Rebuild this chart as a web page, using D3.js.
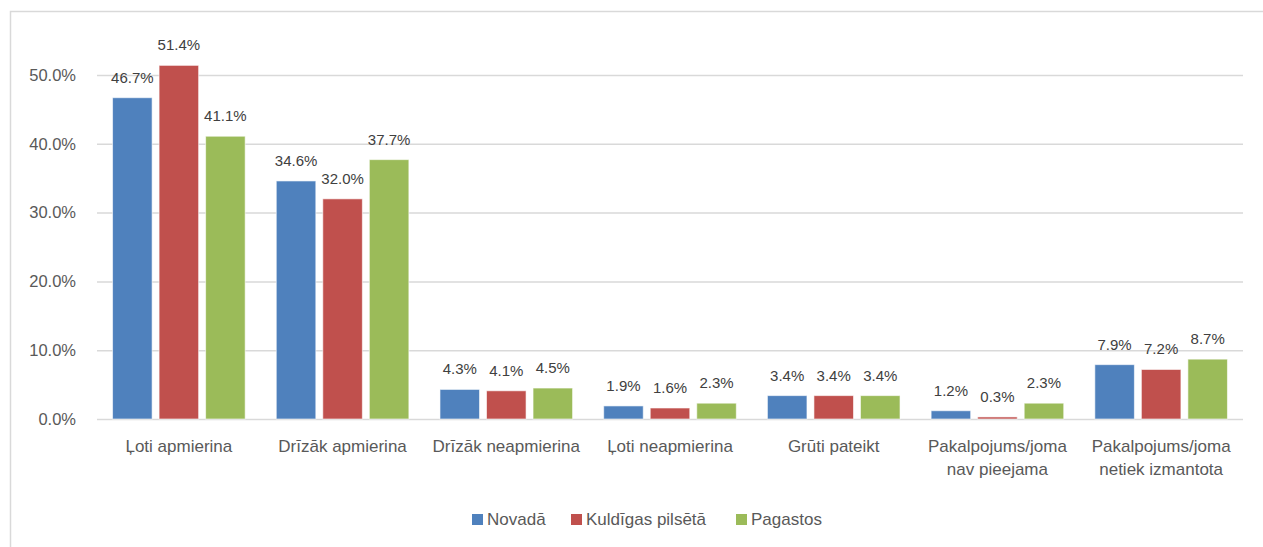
<!DOCTYPE html>
<html>
<head>
<meta charset="utf-8">
<script src="https://cdn.jsdelivr.net/npm/d3@7"></script>
<style>
  html, body { margin: 0; padding: 0; background: #fff; }
  svg { display: block; font-family: "Liberation Sans", Arial, sans-serif; }
</style>
</head>
<body>
<svg id="chart" width="1263" height="547"></svg>
<script>
const categories = [
  ["Ļoti apmierina"],
  ["Drīzāk apmierina"],
  ["Drīzāk neapmierina"],
  ["Ļoti neapmierina"],
  ["Grūti pateikt"],
  ["Pakalpojums/joma", "nav pieejama"],
  ["Pakalpojums/joma", "netiek izmantota"]
];
const seriesNames = ["Novadā", "Kuldīgas pilsētā", "Pagastos"];
const seriesColors = ["#4F81BD", "#C0504D", "#9BBB59"];
const novada   = [46.7, 34.6, 4.3, 1.9, 3.4, 1.2, 7.9];
const kuldigas = [51.4, 32.0, 4.1, 1.6, 3.4, 0.3, 7.2];
const pagastos = [41.1, 37.7, 4.5, 2.3, 3.4, 2.3, 8.7];
const yTicks = [0, 10, 20, 30, 40, 50];

const seriesValues = [novada, kuldigas, pagastos];
const catKeys = categories.map(c => c.join(" "));

const svg = d3.select("#chart");

// chart frame
svg.append("rect")
  .attr("x", 10.5).attr("y", 11.5)
  .attr("width", 1300).attr("height", 600)
  .attr("fill", "#fff").attr("stroke", "#d9d9d9").attr("stroke-width", 1.5);

const left = 97, right = 1243, yZero = 419, yFifty = 75;
const y = d3.scaleLinear().domain([0, 50]).range([yZero, yFifty]);
const x0 = d3.scaleBand().domain(catKeys).range([left, right])
  .paddingInner(0.19).paddingOuter(0.095);
const x1 = d3.scaleBand().domain(seriesNames).range([0, x0.bandwidth()])
  .paddingInner(0.15);

// gridlines
const yAxis = d3.axisLeft(y).tickValues(yTicks)
  .tickFormat(d => d.toFixed(1) + "%")
  .tickSize(-(right - left)).tickPadding(21);
const gy = svg.append("g").attr("transform", `translate(${left},0)`).call(yAxis);
gy.select(".domain").remove();
gy.selectAll(".tick line").attr("stroke", "#d9d9d9").attr("stroke-width", 1.5);
gy.selectAll(".tick text")
  .attr("fill", "#595959").attr("font-size", "16.5px")
  .attr("font-family", "Liberation Sans, Arial, sans-serif");

// bars
const groups = svg.append("g").selectAll("g")
  .data(catKeys).join("g")
  .attr("transform", d => `translate(${x0(d)},0)`);

groups.each(function(cat, ci) {
  const g = d3.select(this);
  seriesNames.forEach((s, si) => {
    const v = seriesValues[si][ci];
    g.append("rect")
      .attr("x", x1(s)).attr("width", x1.bandwidth())
      .attr("y", y(v)).attr("height", yZero - y(v))
      .attr("fill", seriesColors[si])
      .attr("stroke", "#ffffff").attr("stroke-opacity", 0.6).attr("stroke-width", 1);
    g.append("text")
      .attr("x", x1(s) + x1.bandwidth() / 2)
      .attr("y", y(v) - 15)
      .attr("text-anchor", "middle")
      .attr("font-size", "15px")
      .attr("fill", "#404040")
      .text(v.toFixed(1) + "%");
  });
});

// category labels
const xAxis = svg.append("g");
categories.forEach((lines, i) => {
  const cx = x0(catKeys[i]) + x0.bandwidth() / 2;
  const t = xAxis.append("text")
    .attr("text-anchor", "middle")
    .attr("font-size", "17px")
    .attr("fill", "#595959");
  lines.forEach((line, li) => {
    t.append("tspan").attr("x", cx).attr("y", 452 + li * 23).text(line);
  });
});

// legend
const legendItems = [
  { name: seriesNames[0], color: seriesColors[0], x: 472 },
  { name: seriesNames[1], color: seriesColors[1], x: 571 },
  { name: seriesNames[2], color: seriesColors[2], x: 736 }
];
const legend = svg.append("g");
legendItems.forEach(it => {
  legend.append("rect")
    .attr("x", it.x).attr("y", 514)
    .attr("width", 11).attr("height", 11)
    .attr("fill", it.color);
  legend.append("text")
    .attr("x", it.x + 15).attr("y", 525)
    .attr("font-size", "17px").attr("fill", "#595959")
    .text(it.name);
});
</script>
</body>
</html>
